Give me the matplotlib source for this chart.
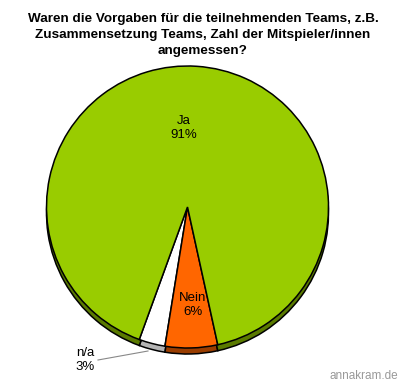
import matplotlib
matplotlib.use("Agg")
import matplotlib.pyplot as plt

plt.rcParams['font.family'] = ['Liberation Sans', 'DejaVu Sans']

categories = ["n/a", "Nein", "Ja"]
values = [3, 6, 91]
top_colors = ["#ffffff", "#ff6600", "#99cc00"]
side_colors = ["#b4b4b4", "#993d00", "#5a7a00"]
title = "Waren die Vorgaben für die teilnehmenden Teams, z.B.\nZusammensetzung Teams, Zahl der Mitspieler/innen\nangemessen?"

fig = plt.figure(figsize=(4.0, 3.84), dpi=100)
ax = fig.add_axes([0, 0, 1, 1])

cx, cy, r = 187.5, 177.0, 141.0
depth = 6.0
start = -110

ax.pie(values, colors=side_colors, startangle=start, counterclock=True,
       center=(cx, cy - depth), radius=r,
       wedgeprops=dict(edgecolor="black", linewidth=1.1))
ax.pie(values, colors=top_colors, startangle=start, counterclock=True,
       center=(cx, cy), radius=r,
       wedgeprops=dict(edgecolor="black", linewidth=1.1))

ax.set_xlim(0, 400)
ax.set_ylim(0, 384)
ax.set_aspect('equal')
ax.axis('off')

lab_fs = 9.5
ax.text(184, 256, f"{categories[2]}\n{values[2]}%", ha="center", va="center",
        fontsize=lab_fs, linespacing=1.25, color="black")
ax.text(193, 79, f"{categories[1]}\n{values[1]}%", ha="center", va="center",
        fontsize=lab_fs, linespacing=1.3, color="black")
ax.text(85, 24, f"{categories[0]}\n{values[0]}%", ha="center", va="center",
        fontsize=lab_fs, linespacing=1.25, color="black")
ax.plot([98, 148], [24, 33], color="#888888", linewidth=0.8)

fig.text(203 / 400, 1 - 35 / 384, title, ha="center", va="center",
         fontsize=9.7, fontweight="bold", linespacing=1.4)
fig.text(398 / 400, 8 / 384, "annakram.de", ha="right", va="center",
         fontsize=8.5, color="#999999")

fig.savefig("out.png", dpi=100)
